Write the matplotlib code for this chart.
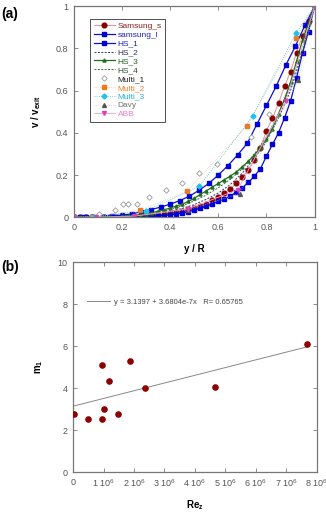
import numpy as np
import matplotlib
matplotlib.use("Agg")
import matplotlib.pyplot as plt

plt.rcParams["font.family"] = ["Liberation Sans", "DejaVu Sans"]
plt.rcParams["mathtext.fontset"] = "custom"
plt.rcParams["mathtext.rm"] = "Liberation Sans"
plt.rcParams["mathtext.bf"] = "Liberation Sans:bold"
plt.rcParams["mathtext.default"] = "regular"

# ── (a) velocity profiles ─────────────────────────────────────────────────────
x_samsung_s = np.arange(41) * 0.025
y_samsung_s = [0, 0, 0, 0, 0, 0, 0.001, 0.001, 0.002, 0.003, 0.004, 0.005, 0.007,
               0.009, 0.012, 0.015, 0.019, 0.024, 0.03, 0.037, 0.045, 0.053, 0.065,
               0.08, 0.095, 0.114, 0.135, 0.16, 0.19, 0.225, 0.27, 0.33, 0.41, 0.47,
               0.54, 0.62, 0.69, 0.78, 0.86, 0.93, 1.0]

x_samsung_l = np.arange(26) * 0.04
y_samsung_l = [0, 0, 0.001, 0.003, 0.006, 0.01, 0.016, 0.026, 0.036, 0.048, 0.062,
               0.079, 0.1, 0.128, 0.16, 0.2, 0.245, 0.295, 0.35, 0.44, 0.53, 0.62,
               0.72, 0.81, 0.91, 1.0]

x_hs1 = np.arange(41) * 0.025
y_hs1 = [0, 0, 0, 0, 0, 0, 0.0002, 0.0003, 0.0006, 0.001, 0.0015, 0.002, 0.003,
         0.004, 0.006, 0.008, 0.011, 0.015, 0.02, 0.026, 0.034, 0.043, 0.053, 0.064,
         0.076, 0.088, 0.1, 0.12, 0.14, 0.165, 0.195, 0.23, 0.29, 0.345, 0.4, 0.47,
         0.55, 0.66, 0.78, 0.88, 1.0]

x_hs24 = np.arange(21) * 0.05
y_hs2 = [0, 0, 0.0003, 0.001, 0.003, 0.006, 0.011, 0.018, 0.028, 0.042, 0.06, 0.085,
         0.115, 0.155, 0.21, 0.28, 0.36, 0.47, 0.6, 0.78, 1.0]
y_hs4 = [0, 0, 0.0004, 0.0015, 0.004, 0.008, 0.014, 0.023, 0.036, 0.054, 0.078,
         0.105, 0.14, 0.18, 0.23, 0.3, 0.38, 0.49, 0.62, 0.79, 1.0]

x_hs3 = np.arange(41) * 0.025
y_hs3 = [0, 0, 0, 0.0002, 0.0004, 0.0008, 0.0016, 0.0027, 0.0042, 0.0064, 0.009,
         0.0125, 0.0167, 0.022, 0.028, 0.035, 0.044, 0.053, 0.062, 0.075, 0.09,
         0.108, 0.125, 0.143, 0.16, 0.178, 0.195, 0.215, 0.24, 0.265, 0.295, 0.33,
         0.37, 0.42, 0.49, 0.56, 0.64, 0.74, 0.84, 0.92, 1.0]

x_multi1 = [0.0, 0.104, 0.171, 0.205, 0.226, 0.261, 0.31, 0.382, 0.449, 0.521,
            0.594, 0.7375, 0.81]
y_multi1 = [0.0, 0.016, 0.036, 0.065, 0.065, 0.065, 0.096, 0.128, 0.163, 0.21,
            0.254, 0.378, 0.488]

x_multi2 = [0.0, 0.073, 0.275, 0.469, 0.72, 0.922, 1.0]
y_multi2 = [0.0, 0.0, 0.033, 0.123, 0.433, 0.85, 1.0]

x_multi3 = [0.0, 0.08, 0.3, 0.521, 0.743, 0.924, 1.0]
y_multi3 = [0.0, 0.002, 0.03, 0.147, 0.48, 0.875, 1.0]

x_davy = [0.0, 0.25, 0.475, 0.689, 0.933, 1.0]
y_davy = [0.0, 0.006, 0.035, 0.112, 0.652, 1.0]

x_abb = [0.0, 0.09, 0.25, 0.475, 0.68, 0.88, 1.0]
y_abb = [0.0, 0.0, 0.005, 0.04, 0.13, 0.55, 1.0]

# ── (b) m1 vs Re ──────────────────────────────────────────────────────────────
re_z = [0.03e6, 0.48e6, 0.95e6, 1.03e6, 1.49e6, 0.94e6, 1.19e6, 1.88e6, 2.36e6,
        4.65e6, 7.67e6]
m_1 = [2.76, 2.51, 2.51, 3.0, 2.76, 5.1, 4.33, 5.3, 4.0, 4.06, 6.08]
fit_a, fit_b = 3.1397, 3.6804e-7
re_ticks = [0, 1e6, 2e6, 3e6, 4e6, 5e6, 6e6, 7e6, 8e6]
re_labels = ["0"] + [f"{i} 10$^6$" for i in range(1, 9)]

fig = plt.figure(figsize=(3.26, 5.16), dpi=100)
ax1 = fig.add_axes([0.227, 0.579, 0.738, 0.409])
ax2 = fig.add_axes([0.224, 0.085, 0.748, 0.407])

ms = 3.4
ax1.plot(x_samsung_s, y_samsung_s, color="#e89090", lw=0.7, marker="o", ms=ms,
         mfc="#8b0000", mec="#8b0000", label="Samsung_s")
ax1.plot(x_samsung_l, y_samsung_l, color="#1010c8", lw=0.9, marker="s", ms=ms,
         mfc="#0000dd", mec="#0000dd", label="samsung_l")
ax1.plot(x_hs1, y_hs1, color="#1010c8", lw=0.9, marker="s", ms=ms,
         mfc="#0000dd", mec="#0000dd", label="HS_1")
ax1.plot(x_hs24, y_hs2, color="#303080", lw=0.7, ls=(0, (2, 1.5)), label="HS_2")
ax1.plot(x_hs3, y_hs3, color="#1e6e1e", lw=0.9, marker="^", ms=2.2,
         mfc="#1e6e1e", mec="#1e6e1e", label="HS_3")
ax1.plot(x_hs24, y_hs4, color="#3a6a3a", lw=0.7, ls=(0, (2, 1.5)), label="HS_4")
ax1.plot(x_multi1, y_multi1, ls="none", marker="D", ms=2.8, mfc="white",
         mec="#999999", mew=0.6, label="Multi_1")
ax1.plot(x_multi2, y_multi2, color="#f4b080", lw=0.5, ls=":", marker="s", ms=ms,
         mfc="#f07820", mec="#f07820", label="Multi_2")
ax1.plot(x_multi3, y_multi3, color="#40c0e0", lw=0.6, ls=":", marker="D", ms=2.6,
         mfc="#20c0f0", mec="#20c0f0", label="Multi_3")
ax1.plot(x_davy, y_davy, color="#c8c8c8", lw=0.5, ls=":", marker="^", ms=2.8,
         mfc="#555555", mec="#555555", label="Davy")
ax1.plot(x_abb, y_abb, color="#f0a0d0", lw=0.6, marker="v", ms=2.8,
         mfc="#e040b0", mec="#e040b0", label="ABB")

ax1.set_xlim(0, 1)
ax1.set_ylim(0, 1)
ax1.set_xticks([0, 0.2, 0.4, 0.6, 0.8, 1])
ax1.set_xticklabels(["0", "0.2", "0.4", "0.6", "0.8", "1"])
ax1.set_yticks([0, 0.2, 0.4, 0.6, 0.8, 1])
ax1.set_yticklabels(["0", "0.2", "0.4", "0.6", "0.8", "1"])
ax1.set_xlabel("y / R", fontsize=7, fontweight="bold", labelpad=9)
ax1.set_ylabel(r"v / v$_{\mathbf{exit}}$", fontsize=7, fontweight="bold", labelpad=9)

leg_colors = ["#8b2020", "#2020c0", "#2020c0", "#303060", "#206020", "#305030",
              "#202020", "#f08020", "#20b0e0", "#707070", "#f080c0"]
leg = ax1.legend(loc="upper left", bbox_to_anchor=(0.05, 0.96), fontsize=6,
                 frameon=True, fancybox=False, edgecolor="black",
                 labelspacing=0.12, handlelength=2.6, handletextpad=0.3,
                 borderpad=0.4, labelcolor=leg_colors)
leg.get_frame().set_linewidth(0.6)

ax2.scatter(re_z, m_1, s=14, color="#8b0000", zorder=3)
fit_x = np.array([0, max(re_z)])
ax2.plot(fit_x, fit_a + fit_b * fit_x, color="#888888", lw=0.7,
         label="y = 3.1397 + 3.6804e-7x   R= 0.65765")
ax2.set_xlim(0, 8e6)
ax2.set_ylim(0, 10)
ax2.set_xticks(re_ticks)
ax2.set_xticklabels(re_labels)
ax2.set_yticks([0, 2, 4, 6, 8, 10])
ax2.set_xlabel("Re$_\\mathbf{z}$", fontsize=7, fontweight="bold", labelpad=6)
ax2.set_ylabel("m$_\\mathbf{1}$", fontsize=7, fontweight="bold", labelpad=9)
ax2.legend(loc="upper left", bbox_to_anchor=(0.03, 0.86), fontsize=5.5, frameon=False,
           handlelength=3, handletextpad=0.5, labelcolor="#444444")

for ax in (ax1, ax2):
    for sp in ax.spines.values():
        sp.set_color("#777777")
        sp.set_linewidth(0.9)
    ax.tick_params(axis="both", which="both", direction="in", top=True, right=True,
                   length=3, width=0.6, color="#777777", labelsize=6.5,
                   labelcolor="#555555", pad=4)

fig.text(0.005, 0.965, "(a)", fontsize=10, fontweight="bold")
fig.text(0.005, 0.475, "(b)", fontsize=10, fontweight="bold")

plt.savefig("out.png", dpi=100)
print("Saved: out.png")
